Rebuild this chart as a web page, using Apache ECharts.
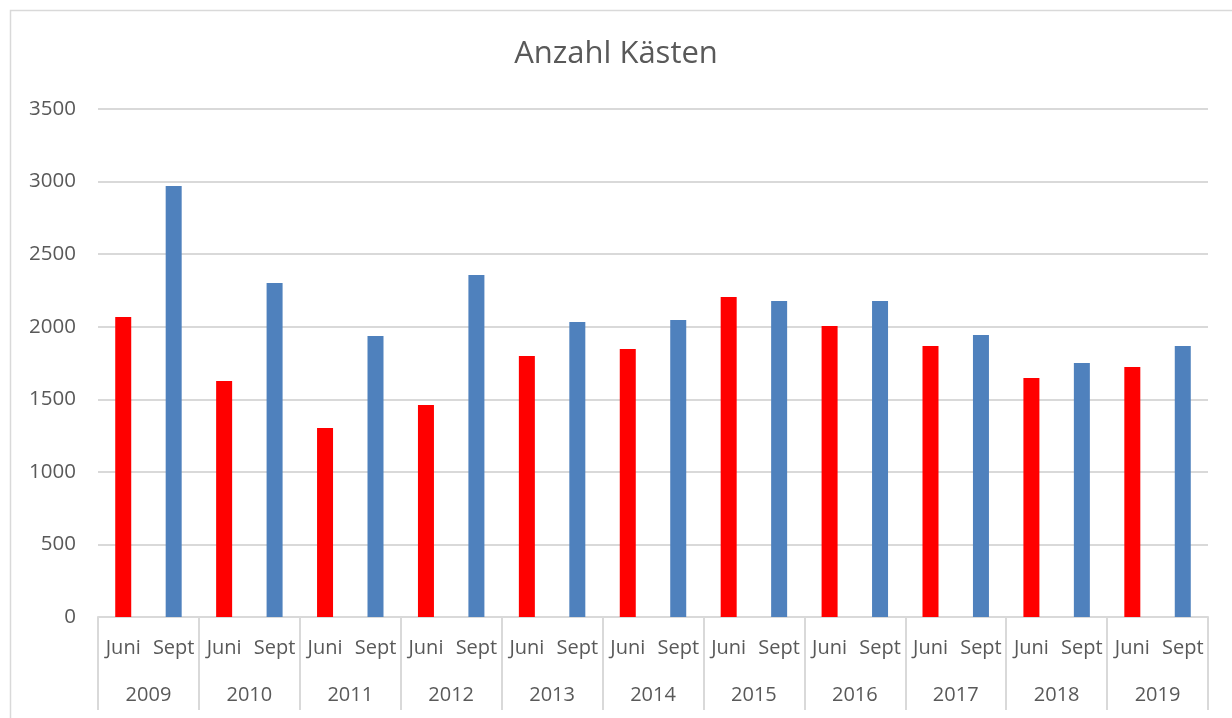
<!DOCTYPE html>
<html>
<head>
<meta charset="utf-8">
<script src="https://cdn.jsdelivr.net/npm/echarts@6/dist/echarts.min.js"></script>
<style>
html,body{margin:0;padding:0;background:#fff;}
#main{width:1232px;height:718px;}
</style>
</head>
<body>
<div id="main"></div>
<script>
const years = ['2009','2010','2011','2012','2013','2014','2015','2016','2017','2018','2019'];
const months = ['Juni','Sept'];
const juni = [2067, 1626, 1302, 1461, 1798, 1846, 2205, 2005, 1867, 1647, 1722];
const sept = [2970, 2301, 1936, 2356, 2033, 2046, 2177, 2177, 1943, 1750, 1867];
const yTicks = {min: 0, max: 3500, interval: 500};

const categories = [];
const values = [];
years.forEach((y, i) => {
  categories.push(months[0]); values.push(juni[i]);
  categories.push(months[1]); values.push(sept[i]);
});

const textColor = '#595959';
const lineColor = '#d9d9d9';
const font = '"Open Sans", "Noto Sans", sans-serif';

const chart = echarts.init(document.getElementById('main'));
chart.setOption({
  animation: false,
  backgroundColor: '#fff',
  title: {
    text: 'Anzahl Kästen',
    left: 'center',
    top: 34,
    textStyle: {color: textColor, fontSize: 31, fontWeight: 'normal', fontFamily: font}
  },
  graphic: [{
    type: 'rect',
    shape: {x: 10.5, y: 10.5, width: 1240, height: 730},
    style: {fill: null, stroke: lineColor, lineWidth: 1.5},
    silent: true
  }],
  grid: {left: 98, right: 24, top: 109, bottom: 101, containLabel: false},
  xAxis: [{
    type: 'category',
    data: categories,
    position: 'bottom',
    axisLine: {show: true, lineStyle: {color: lineColor, width: 2}},
    axisTick: {show: false},
    axisLabel: {interval: 0, color: textColor, fontSize: 20, fontFamily: font, margin: 21}
  }, {
    type: 'category',
    data: years,
    position: 'bottom',
    axisLine: {show: false},
    axisTick: {show: true, length: 93, lineStyle: {color: lineColor, width: 2}},
    axisLabel: {interval: 0, color: textColor, fontSize: 20, fontFamily: font, margin: 68}
  }],
  yAxis: {
    type: 'value',
    min: yTicks.min, max: yTicks.max, interval: yTicks.interval,
    axisLine: {show: false},
    axisTick: {show: false},
    axisLabel: {color: textColor, fontSize: 20.5, fontFamily: font, margin: 22, formatter: v => String(v)},
    splitLine: {lineStyle: {color: lineColor, width: 2}}
  },
  series: [{
    type: 'bar',
    xAxisIndex: 0,
    data: values,
    barWidth: 16,
    itemStyle: {color: p => (p.dataIndex % 2 === 0 ? '#ff0000' : '#4f81bd')}
  }]
});
</script>
</body>
</html>
